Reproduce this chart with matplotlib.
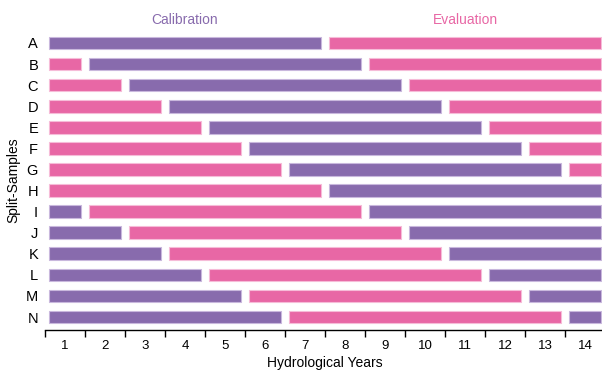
import matplotlib
matplotlib.use("Agg")
import matplotlib.pyplot as plt

plt.rcParams["font.family"] = ["Liberation Sans", "DejaVu Sans"]

samples = list("ABCDEFGHIJKLMN")
n_years = 14
year_labels = [str(y) for y in range(1, n_years + 1)]
# first year (0-based) of the moving 7-year block for each split-sample
block_start = [0, 1, 2, 3, 4, 5, 6, 7, 8, 9, 10, 11, 12, 13]
# which period the moving block represents
block_kind = ["cal"] * 7 + ["eval"] * 7
block_length = 7

purple = "#886BAD"
pink = "#E867A5"
purple_edge = "#C9B8DD"
pink_edge = "#F6BCD8"

fig = plt.figure(figsize=(6.02, 3.70), dpi=100)
ax = fig.add_axes([45 / 602, 40 / 370, 560 / 602, 330 / 370])

gap = 0.1
bar_h = 0.6


def runs_for(start, kind):
    """Contiguous runs of calibration / evaluation years for one split-sample."""
    other = "eval" if kind == "cal" else "cal"
    first = start % block_length
    labels = [kind if first <= y < first + block_length else other for y in range(n_years)]
    runs = []
    for y, lab in enumerate(labels):
        if runs and runs[-1][2] == lab:
            runs[-1][1] += 1
        else:
            runs.append([y, 1, lab])
    return runs


for row, (s, k) in enumerate(zip(block_start, block_kind)):
    for x0, w, kind in runs_for(s, k):
        fc, ec = (purple, purple_edge) if kind == "cal" else (pink, pink_edge)
        ax.barh(row, w - 2 * gap, left=x0 + gap, height=bar_h,
                color=fc, edgecolor=ec, linewidth=0.8)

ax.set_xlim(0, n_years)
ax.set_ylim(13 + 13 / 21.08, -43 / 21.08)

ax.set_yticks(range(len(samples)))
ax.set_yticklabels(samples, fontsize=10.5)
ax.tick_params(axis="y", length=0, pad=5)

ax.set_xticks(range(n_years))
ax.set_xticklabels([])
ax.set_xticks([i + 0.5 for i in range(n_years)], minor=True)
ax.set_xticklabels(year_labels, minor=True, fontsize=9.5)
ax.tick_params(axis="x", which="major", direction="out", length=5, width=1)
ax.tick_params(axis="x", which="minor", length=0, pad=7)

for sp in ["top", "right", "left"]:
    ax.spines[sp].set_visible(False)
ax.spines["bottom"].set_linewidth(1)

ax.text(3.5, -1.09, "Calibration", color=purple, fontsize=10, ha="center", va="center")
ax.text(10.5, -1.09, "Evaluation", color=pink, fontsize=10, ha="center", va="center")

ax.set_xlabel("Hydrological Years", fontsize=10, labelpad=3)
fig.text(13 / 602, 1 - 180 / 370, "Split-Samples", rotation=90, fontsize=10,
         ha="center", va="center")

fig.savefig("out.png", dpi=100)
